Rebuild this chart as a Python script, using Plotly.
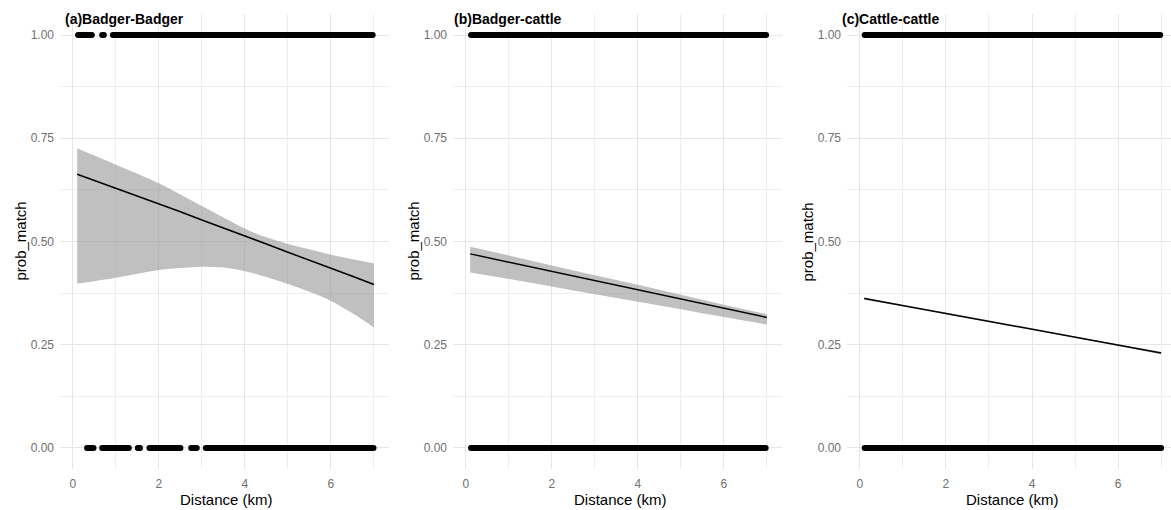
import plotly.graph_objects as go

# ---------------- data ----------------
# observed distance runs (km) where points stack densely at prob_match = 1 / 0
a_top_runs = [(0.12, 0.44), (0.68, 0.72), (0.93, 6.97)]
a_bot_runs = [(0.33, 0.48), (0.68, 1.30), (1.51, 1.56), (1.78, 2.50), (2.75, 2.88), (3.09, 6.99)]
b_top_runs = [(0.12, 6.98)]
b_bot_runs = [(0.12, 6.97)]
c_top_runs = [(0.11, 6.98)]
c_bot_runs = [(0.11, 7.00)]

# fitted curve and confidence band
a_x = [0.1, 0.5, 1.0, 1.5, 2.0, 2.5, 3.0, 3.5, 4.0, 4.5, 5.0, 5.5, 6.0, 6.5, 7.0]
a_fit = [0.663, 0.648, 0.629, 0.610, 0.591, 0.572, 0.552, 0.533, 0.513, 0.494, 0.474, 0.455, 0.435, 0.416, 0.396]
a_upper = [0.726, 0.708, 0.686, 0.664, 0.641, 0.614, 0.586, 0.558, 0.531, 0.510, 0.494, 0.481, 0.468, 0.457, 0.447]
a_lower = [0.398, 0.404, 0.412, 0.422, 0.431, 0.436, 0.439, 0.437, 0.428, 0.414, 0.397, 0.378, 0.356, 0.326, 0.292]

b_x = [0.1, 1, 2, 3, 4, 5, 6, 7]
b_fit = [0.470, 0.450, 0.428, 0.405, 0.383, 0.361, 0.338, 0.316]
b_upper = [0.487, 0.466, 0.442, 0.418, 0.395, 0.371, 0.347, 0.324]
b_lower = [0.425, 0.409, 0.391, 0.372, 0.354, 0.336, 0.317, 0.299]

c_x = [0.1, 1, 2, 3, 4, 5, 6, 7]
c_fit = [0.362, 0.345, 0.326, 0.307, 0.288, 0.268, 0.249, 0.230]
c_upper = [0.365, 0.347, 0.328, 0.309, 0.290, 0.270, 0.251, 0.233]
c_lower = [0.359, 0.343, 0.324, 0.305, 0.286, 0.266, 0.247, 0.227]

titles = ["(a)Badger-Badger", "(b)Badger-cattle", "(c)Cattle-cattle"]
y_ticks = [0, 0.25, 0.5, 0.75, 1.0]
y_ticktext = ["0.00", "0.25", "0.50", "0.75", "1.00"]
x_ticks = [0, 2, 4, 6]

# ---------------- layout constants ----------------
W, H = 1171, 510
FONT = "Arial, Liberation Sans, sans-serif"
x_domains_px = [(60, 389), (453, 782), (847, 1171)]
x_ranges = [[-0.3, 7.35], [-0.3, 7.35], [-0.3, 7.23]]
y_dom = [1 - 468.6 / H, 1 - 14.4 / H]

panels = [
    (a_top_runs, a_bot_runs, a_x, a_fit, a_upper, a_lower),
    (b_top_runs, b_bot_runs, b_x, b_fit, b_upper, b_lower),
    (c_top_runs, c_bot_runs, c_x, c_fit, c_upper, c_lower),
]

fig = go.Figure()


def runs_xy(runs, yval):
    xs, ys = [], []
    for s, e in runs:
        xs += [s, e, None]
        ys += [yval, yval, None]
    return xs, ys


for i, (top, bot, xx, fit, up, lo) in enumerate(panels):
    xa = "x" if i == 0 else f"x{i+1}"
    ya = "y" if i == 0 else f"y{i+1}"
    # ribbon
    fig.add_trace(go.Scatter(x=xx, y=lo, mode="lines", line=dict(width=0, color="rgba(0,0,0,0)", shape="spline"),
                             xaxis=xa, yaxis=ya, showlegend=False, hoverinfo="skip"))
    fig.add_trace(go.Scatter(x=xx, y=up, mode="lines", line=dict(width=0, color="rgba(0,0,0,0)", shape="spline"),
                             fill="tonexty", fillcolor="rgba(150,150,150,0.6)",
                             xaxis=xa, yaxis=ya, showlegend=False, hoverinfo="skip"))
    # fit line
    fig.add_trace(go.Scatter(x=xx, y=fit, mode="lines", line=dict(width=1.5, color="black"),
                             xaxis=xa, yaxis=ya, showlegend=False))
    # points
    for runs, yv in ((top, 1.0), (bot, 0.0)):
        xs, ys = runs_xy(runs, yv)
        fig.add_trace(go.Scatter(x=xs, y=ys, mode="lines+markers",
                                 line=dict(width=6, color="black"),
                                 marker=dict(size=6, color="black"),
                                 connectgaps=False,
                                 xaxis=xa, yaxis=ya, showlegend=False))

axis_common = dict(showline=False, zeroline=False, gridcolor="#e6e6e6", gridwidth=1,
                   tickfont=dict(family=FONT, size=12, color="#707070"), ticks="")
layout = dict(width=W, height=H, margin=dict(l=0, r=0, t=0, b=0),
              plot_bgcolor="white", paper_bgcolor="white", showlegend=False,
              font=dict(family=FONT))
annotations = []
for i in range(3):
    xk = "xaxis" if i == 0 else f"xaxis{i+1}"
    yk = "yaxis" if i == 0 else f"yaxis{i+1}"
    d0, d1 = x_domains_px[i]
    layout[xk] = dict(axis_common, domain=[d0 / W, d1 / W], range=x_ranges[i],
                      tickvals=x_ticks, ticklabelstandoff=6,
                      anchor="y" if i == 0 else f"y{i+1}",
                      minor=dict(dtick=1, tick0=0, showgrid=True, gridcolor="#eeeeee", gridwidth=0.8))
    layout[yk] = dict(axis_common, domain=y_dom, range=[-0.05, 1.05],
                      tickvals=y_ticks, ticktext=y_ticktext, ticklabelstandoff=5,
                      anchor="x" if i == 0 else f"x{i+1}",
                      minor=dict(dtick=0.125, tick0=0, showgrid=True, gridcolor="#eeeeee", gridwidth=0.8))
    # panel title
    title_x = [63, 452, 840][i]
    annotations.append(dict(text=f"<b>{titles[i]}</b>", x=title_x / W, y=1 - 19 / H,
                            xref="paper", yref="paper", xanchor="left", yanchor="middle",
                            showarrow=False, font=dict(family=FONT, size=14, color="black")))
    # y title
    annotations.append(dict(text="prob_match", x=(d0 - 40) / W, y=1 - 241.5 / H,
                            xref="paper", yref="paper", xanchor="center", yanchor="middle",
                            textangle=-90, showarrow=False,
                            font=dict(family=FONT, size=15, color="black")))
    # x title
    cx = [226, 620, 1012][i]
    annotations.append(dict(text="Distance (km)", x=cx / W, y=1 - 499 / H,
                            xref="paper", yref="paper", xanchor="center", yanchor="middle",
                            showarrow=False, font=dict(family=FONT, size=15, color="black")))

layout["annotations"] = annotations
fig.update_layout(**layout)
fig.write_html("out.html", config={"displayModeBar": False},
               post_script="document.body.style.margin='0';document.body.style.overflow='hidden';")
